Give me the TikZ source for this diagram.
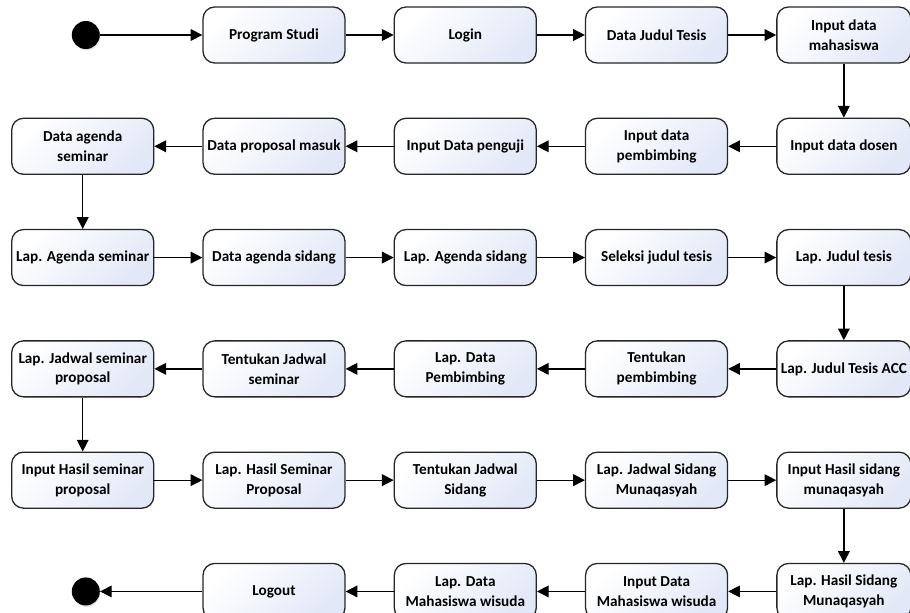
\documentclass[tikz,border=0pt]{standalone}
\usepackage{fontspec}
\setmainfont{Carlito}
\usetikzlibrary{arrows.meta,positioning,shadows}
\definecolor{boxshade}{RGB}{226,232,247}
\tikzset{
  actbox/.style={draw=black!85, line width=1.1pt, rectangle, rounded corners=10pt, minimum width=4.26cm, minimum height=1.68cm, align=center, top color=white, bottom color=boxshade, shading angle=45, font=\fontsize{13}{17}\selectfont\bfseries, inner sep=2pt},
  flow/.style={-{Triangle[length=10pt,width=10pt]}, line width=1.1pt, draw=black},
  terminal/.style={circle, fill=black, minimum size=0.84cm, inner sep=0pt, drop shadow={opacity=0.25, shadow xshift=0.6pt, shadow yshift=-1.2pt}}
}

\begin{document}
\begin{tikzpicture}[node distance=1.62cm and 1.44cm]
  \useasboundingbox (0,0) rectangle (27.3,-18.39);
  % row 1
  \node[actbox] (ps) at (8.22,-1.05) {Program Studi};
  \node[terminal, left=3.07cm of ps] (start) {};
  \node[actbox, right=of ps] (login) {Login};
  \node[actbox, right=of login] (judul) {Data Judul Tesis};
  \node[actbox, right=of judul, minimum width=4.02cm] (inmhs) {Input data\\mahasiswa};
  % row 2
  \node[actbox, below=of inmhs, minimum width=4.02cm] (indosen) {Input data dosen};
  \node[actbox, left=of indosen] (inbimb) {Input data\\pembimbing};
  \node[actbox, left=of inbimb] (inuji) {Input Data penguji};
  \node[actbox, left=of inuji] (propmasuk) {Data proposal masuk};
  \node[actbox, left=of propmasuk] (agsem) {Data agenda\\seminar};
  % row 3
  \node[actbox, below=of agsem] (lapagsem) {Lap. Agenda seminar};
  \node[actbox, right=of lapagsem] (agsid) {Data agenda sidang};
  \node[actbox, right=of agsid] (lapagsid) {Lap. Agenda sidang};
  \node[actbox, right=of lapagsid] (seleksi) {Seleksi judul tesis};
  \node[actbox, right=of seleksi, minimum width=4.02cm] (lapjudul) {Lap. Judul tesis};
  % row 4
  \node[actbox, below=of lapjudul, minimum width=4.02cm] (acc) {Lap. Judul Tesis ACC};
  \node[actbox, left=of acc] (tentbimb) {Tentukan\\pembimbing};
  \node[actbox, left=of tentbimb] (lapbimb) {Lap. Data\\Pembimbing};
  \node[actbox, left=of lapbimb] (jadsem) {Tentukan Jadwal\\seminar};
  \node[actbox, left=of jadsem] (lapjadsem) {Lap. Jadwal seminar\\proposal};
  % row 5
  \node[actbox, below=of lapjadsem] (hasilsem) {Input Hasil seminar\\proposal};
  \node[actbox, right=of hasilsem] (laphasilsem) {Lap. Hasil Seminar\\Proposal};
  \node[actbox, right=of laphasilsem] (jadsid) {Tentukan Jadwal\\Sidang};
  \node[actbox, right=of jadsid] (lapjadsid) {Lap. Jadwal Sidang\\Munaqasyah};
  \node[actbox, right=of lapjadsid, minimum width=4.02cm] (hasilsid) {Input Hasil sidang\\munaqasyah};
  % row 6
  \node[actbox, below=of hasilsid, minimum width=4.02cm] (laphasilsid) {Lap. Hasil Sidang\\Munaqasyah};
  \node[actbox, left=of laphasilsid] (inwisuda) {Input Data\\Mahasiswa wisuda};
  \node[actbox, left=of inwisuda] (lapwisuda) {Lap. Data\\Mahasiswa wisuda};
  \node[actbox, left=of lapwisuda] (logout) {Logout};
  \node[terminal, left=3.07cm of logout] (stop) {};
  % connectors
  \draw[flow] (start) -- (ps);
  \draw[flow] (ps) -- (login);
  \draw[flow] (login) -- (judul);
  \draw[flow] (judul) -- (inmhs);
  \draw[flow] (inmhs) -- (indosen);
  \draw[flow] (indosen) -- (inbimb);
  \draw[flow] (inbimb) -- (inuji);
  \draw[flow] (inuji) -- (propmasuk);
  \draw[flow] (propmasuk) -- (agsem);
  \draw[flow] (agsem) -- (lapagsem);
  \draw[flow] (lapagsem) -- (agsid);
  \draw[flow] (agsid) -- (lapagsid);
  \draw[flow] (lapagsid) -- (seleksi);
  \draw[flow] (seleksi) -- (lapjudul);
  \draw[flow] (lapjudul) -- (acc);
  \draw[flow] (acc) -- (tentbimb);
  \draw[flow] (tentbimb) -- (lapbimb);
  \draw[flow] (lapbimb) -- (jadsem);
  \draw[flow] (jadsem) -- (lapjadsem);
  \draw[flow] (lapjadsem) -- (hasilsem);
  \draw[flow] (hasilsem) -- (laphasilsem);
  \draw[flow] (laphasilsem) -- (jadsid);
  \draw[flow] (jadsid) -- (lapjadsid);
  \draw[flow] (lapjadsid) -- (hasilsid);
  \draw[flow] (hasilsid) -- (laphasilsid);
  \draw[flow] (laphasilsid) -- (inwisuda);
  \draw[flow] (inwisuda) -- (lapwisuda);
  \draw[flow] (lapwisuda) -- (logout);
  \draw[flow] (logout) -- (stop);
\end{tikzpicture}
\end{document}
